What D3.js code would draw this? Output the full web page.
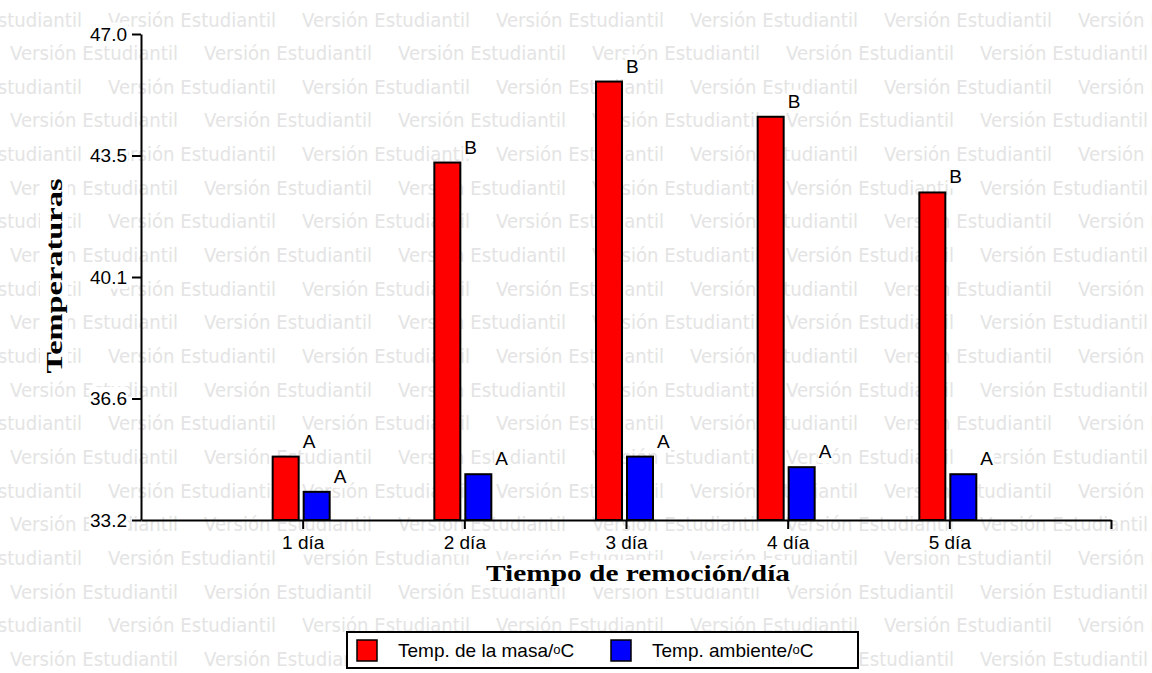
<!DOCTYPE html>
<html>
<head>
<meta charset="utf-8">
<script src="https://cdn.jsdelivr.net/npm/d3@7"></script>
<style>
  html, body { margin: 0; padding: 0; background: #fff; }
  svg { display: block; }
</style>
</head>
<body>
<svg id="chart" width="1152" height="673"></svg>
<script>
// Temperatures recorded per turning day
const categories = ["1 día", "2 día", "3 día", "4 día", "5 día"];
const masaValues = [35.0, 43.35, 45.65, 44.65, 42.5];      // Temp. de la masa/oC
const ambienteValues = [34.0, 34.5, 35.0, 34.7, 34.5];     // Temp. ambiente/oC
const masaLetters = ["A", "B", "B", "B", "B"];
const ambienteLetters = ["A", "A", "A", "A", "A"];
const yTickValues = [33.2, 36.65, 40.1, 43.55, 47.0];
const yTickLabels = ["33.2", "36.6", "40.1", "43.5", "47.0"];
const seriesNames = ["Temp. de la masa/", "Temp. ambiente/"];
const watermarkText = "Versión Estudiantil";

const W = 1152, H = 673;
const sans = "'Liberation Sans', Arial, sans-serif";
const serif = "'Liberation Serif', 'Times New Roman', serif";
const colors = ["#ff0000", "#0000ff"];

const svg = d3.select("#chart");
svg.append("rect").attr("width", W).attr("height", H).attr("fill", "#fff");

// Background watermark rows
const wm = svg.append("g").attr("fill", "#e4e4e4")
  .style("font-family", "'DejaVu Sans', Verdana, sans-serif").style("font-size", "19px");
const wmPeriod = 194, wmRowStep = 33.65;
for (let r = 0; r < 21; r++) {
  const y = 26.5 + r * wmRowStep;
  const start = r % 2 === 0 ? 108 - wmPeriod : 10;
  for (let x = start; x < W; x += wmPeriod) {
    wm.append("text").attr("x", x).attr("y", y)
      .attr("textLength", 168).attr("lengthAdjust", "spacingAndGlyphs")
      .text(watermarkText);
  }
}

const knock = svg.append("g");   // white patches behind labels
const plot = svg.append("g");

const x = d3.scaleLinear().domain([0, 6]).range([141, 1111]);
const y = d3.scaleLinear().domain([33.2, 47.0]).range([520, 34]);

const barW = 26;
const offsets = [-30, 1];
const series = [masaValues, ambienteValues];
const letters = [masaLetters, ambienteLetters];

// Bars
series.forEach((vals, s) => {
  plot.append("g").selectAll("rect").data(vals).join("rect")
    .attr("x", (d, i) => x(i + 1) + offsets[s])
    .attr("y", d => y(d))
    .attr("width", barW)
    .attr("height", d => y(33.2) - y(d))
    .attr("fill", colors[s])
    .attr("stroke", "#000")
    .attr("stroke-width", 2);
});

// Axes
const yAxis = d3.axisLeft(y).tickValues(yTickValues)
  .tickFormat((d, i) => yTickLabels[i]).tickSize(9).tickPadding(5).tickSizeOuter(0);
const gy = plot.append("g").attr("transform", `translate(${x(0)},0)`).call(yAxis);

const xAxis = d3.axisBottom(x).tickValues([1, 2, 3, 4, 5, 6])
  .tickFormat(d => categories[d - 1] || "").tickSize(9).tickPadding(7).tickSizeOuter(0);
const gx = plot.append("g").attr("transform", `translate(0,${y(33.2)})`).call(xAxis);

[gy, gx].forEach(g => {
  g.select(".domain").attr("stroke", "#000").attr("stroke-width", 2);
  g.selectAll(".tick line").attr("stroke", "#000").attr("stroke-width", 2);
  g.selectAll(".tick text").attr("fill", "#000")
    .style("font-family", sans).style("font-size", "19px");
});

// Significance letters
const labelTexts = [];
series.forEach((vals, s) => {
  vals.forEach((d, i) => {
    labelTexts.push(plot.append("text")
      .attr("x", x(i + 1) + offsets[s] + barW + 4)
      .attr("y", y(d) - 9)
      .style("font-family", sans).style("font-size", "19px")
      .text(letters[s][i]));
  });
});

// Axis titles
const xTitle = plot.append("text")
  .attr("x", 638).attr("y", 581)
  .attr("text-anchor", "middle")
  .attr("textLength", 304).attr("lengthAdjust", "spacingAndGlyphs")
  .style("font-family", serif).style("font-weight", "bold").style("font-size", "23px")
  .text("Tiempo de remoción/día");

const yTitle = plot.append("text")
  .attr("transform", "translate(62,276) rotate(-90)")
  .attr("text-anchor", "middle")
  .attr("textLength", 195).attr("lengthAdjust", "spacingAndGlyphs")
  .style("font-family", serif).style("font-weight", "bold").style("font-size", "24px")
  .text("Temperaturas");

// White patches behind every label so the watermark does not show through
function patch(node, pad) {
  const b = node.getBBox();
  const ctm = node.getCTM();
  const pts = [[b.x - pad, b.y - pad], [b.x + b.width + pad, b.y + b.height + pad]]
    .map(([px, py]) => [ctm.a * px + ctm.c * py + ctm.e, ctm.b * px + ctm.d * py + ctm.f]);
  const x0 = Math.min(pts[0][0], pts[1][0]), x1 = Math.max(pts[0][0], pts[1][0]);
  const y0 = Math.min(pts[0][1], pts[1][1]), y1 = Math.max(pts[0][1], pts[1][1]);
  knock.append("rect").attr("x", x0).attr("y", y0)
    .attr("width", x1 - x0).attr("height", y1 - y0).attr("fill", "#fff");
}
gy.selectAll(".tick text").each(function () { patch(this, 1); });
gx.selectAll(".tick text").each(function () { if (this.textContent) patch(this, 1); });
labelTexts.forEach(t => patch(t.node(), 1));
patch(xTitle.node(), 1);
patch(yTitle.node(), 1);

// Legend
const lg = svg.append("g");
lg.append("rect").attr("x", 347).attr("y", 632).attr("width", 511).attr("height", 36)
  .attr("fill", "#fff").attr("stroke", "#000").attr("stroke-width", 2);
const legendItems = [
  { sx: 357, tx: 398, len: 176 },
  { sx: 611, tx: 652, len: 173 }
];
seriesNames.forEach((name, s) => {
  const it = legendItems[s];
  lg.append("rect").attr("x", it.sx).attr("y", 640).attr("width", 20).attr("height", 21)
    .attr("fill", colors[s]).attr("stroke", "#000").attr("stroke-width", 1.5);
  const t = lg.append("text").attr("x", it.tx).attr("y", 657)
    .style("font-family", sans).style("font-size", "19px");
  t.append("tspan").text(name);
  t.append("tspan").attr("dy", -3).style("font-size", "13px").text("o");
  t.append("tspan").attr("dy", 3).text("C");
});
</script>
</body>
</html>
